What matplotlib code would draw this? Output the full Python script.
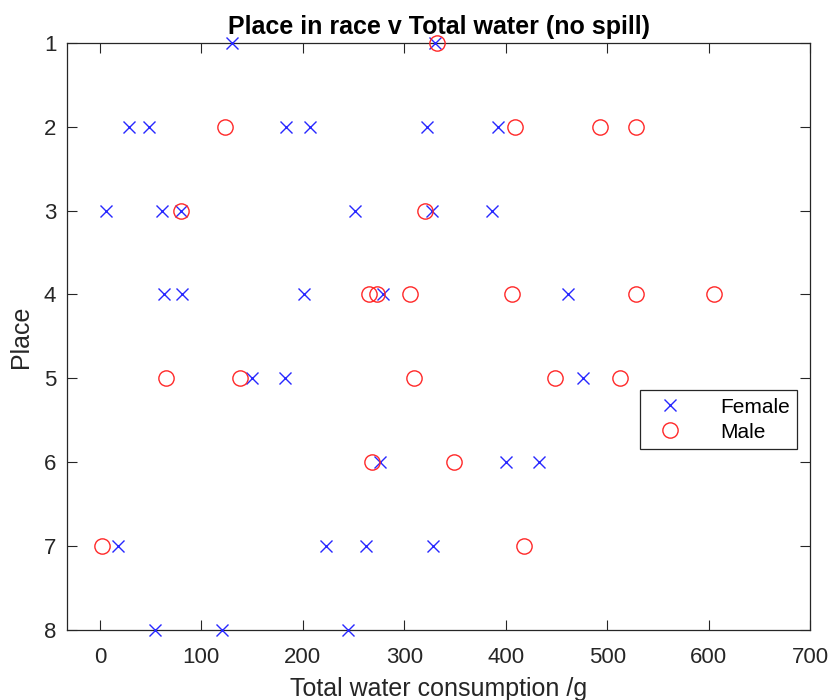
import matplotlib
matplotlib.use("Agg")
import matplotlib.pyplot as plt

plt.rcParams["font.family"] = ["Liberation Sans", "DejaVu Sans"]

# place in race vs total water
female_water = [130, 330,
                29, 48, 183, 207, 322, 392,
                6, 61, 80, 251, 327, 386,
                63, 81, 201, 279, 461,
                150, 182, 476,
                276, 400, 433,
                18, 223, 262, 328,
                54, 120, 244]
female_place = [1, 1,
                2, 2, 2, 2, 2, 2,
                3, 3, 3, 3, 3, 3,
                4, 4, 4, 4, 4,
                5, 5, 5,
                6, 6, 6,
                7, 7, 7, 7,
                8, 8, 8]
male_water = [332,
              123, 409, 493, 528,
              80, 320,
              265, 273, 306, 406, 528, 605,
              65, 138, 309, 448, 512,
              268, 349,
              2, 418]
male_place = [1,
              2, 2, 2, 2,
              3, 3,
              4, 4, 4, 4, 4, 4,
              5, 5, 5, 5, 5,
              6, 6,
              7, 7]

DARK = "#262626"
fig = plt.figure(figsize=(8.32, 7.0), dpi=100)
ax = fig.add_axes([0.081, 0.1, 0.893, 0.839])

ax.plot(female_water, female_place, "x", color="#2828ff", ms=8, mew=1.0,
        ls="none", label="Female", clip_on=False, zorder=3)
ax.plot(male_water, male_place, "o", color="#ff2828", mfc="none", ms=11,
        mew=1.0, ls="none", label="Male", clip_on=False, zorder=3)

ax.set_xlim(-32, 700)
ax.set_ylim(8, 1)
ax.set_xticks(range(0, 701, 100))
ax.set_yticks(range(1, 9))
ax.tick_params(direction="in", length=7, width=0.8, top=True, right=True,
               labelsize=16, colors=DARK)
ax.tick_params(axis="x", pad=12)
ax.tick_params(axis="y", pad=8)
for s in ax.spines.values():
    s.set_color(DARK)
    s.set_linewidth(0.9)

ax.set_title("Place in race v Total water (no spill)", fontsize=18,
             fontweight="bold", pad=6)
ax.set_xlabel("Total water consumption /g", fontsize=18, color=DARK, labelpad=7)
ax.set_ylabel("Place", fontsize=18, color=DARK, labelpad=8)

leg = ax.legend(loc="upper left", bbox_to_anchor=(0.757, 0.426), fontsize=15,
                frameon=True, fancybox=False, edgecolor=DARK, framealpha=1,
                handletextpad=1.3, borderpad=0.35, labelspacing=0.3,
                handlelength=2.2)
leg.get_frame().set_linewidth(0.9)
leg.set_zorder(5)

fig.savefig("out.png", dpi=100)
